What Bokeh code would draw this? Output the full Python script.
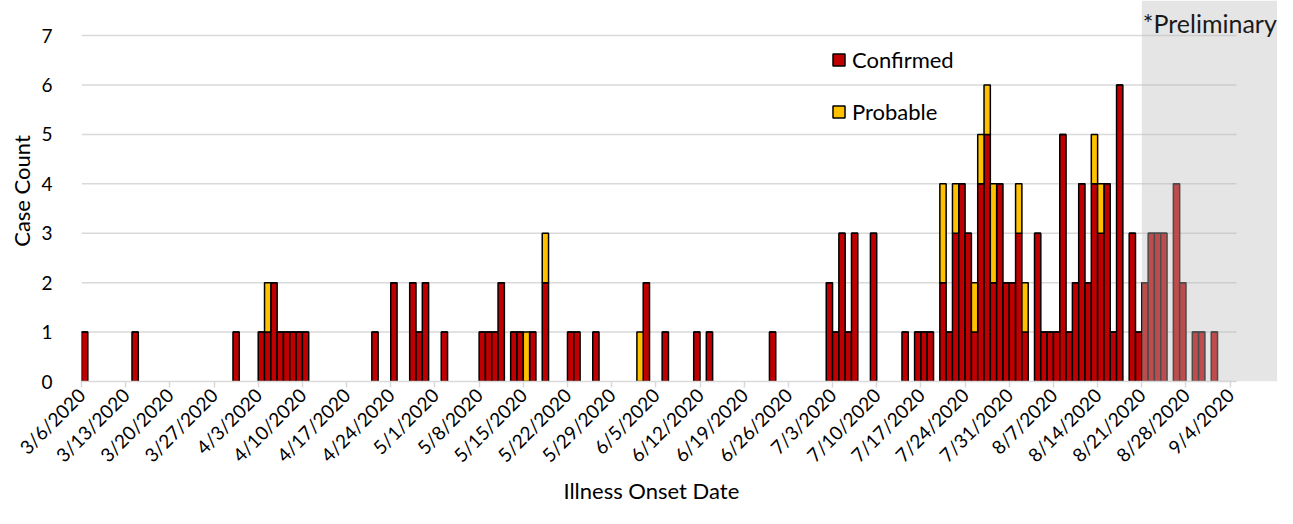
import math
import pandas as pd
from bokeh.plotting import figure
from bokeh.models import ColumnDataSource, Range1d, FixedTicker, BoxAnnotation, Label
from bokeh.embed import file_html
from bokeh.resources import INLINE

# ---------------- data ----------------
onset_dates = [
    "2020-03-06", "2020-03-14", "2020-03-30", "2020-04-03", "2020-04-04", "2020-04-05",
    "2020-04-06", "2020-04-07", "2020-04-08", "2020-04-09", "2020-04-10", "2020-04-21",
    "2020-04-24", "2020-04-27", "2020-04-28", "2020-04-29", "2020-05-02", "2020-05-08",
    "2020-05-09", "2020-05-10", "2020-05-11", "2020-05-13", "2020-05-14", "2020-05-15",
    "2020-05-16", "2020-05-18", "2020-05-22", "2020-05-23", "2020-05-26", "2020-06-02",
    "2020-06-03", "2020-06-06", "2020-06-11", "2020-06-13", "2020-06-23", "2020-07-02",
    "2020-07-03", "2020-07-04", "2020-07-05", "2020-07-06", "2020-07-09", "2020-07-14",
    "2020-07-16", "2020-07-17", "2020-07-18", "2020-07-20", "2020-07-21", "2020-07-22",
    "2020-07-23", "2020-07-24", "2020-07-25", "2020-07-26", "2020-07-27", "2020-07-28",
    "2020-07-29", "2020-07-30", "2020-07-31", "2020-08-01", "2020-08-02", "2020-08-04",
    "2020-08-05", "2020-08-06", "2020-08-07", "2020-08-08", "2020-08-09", "2020-08-10",
    "2020-08-11", "2020-08-12", "2020-08-13", "2020-08-14", "2020-08-15", "2020-08-16",
    "2020-08-17", "2020-08-19", "2020-08-20", "2020-08-21", "2020-08-22", "2020-08-23",
    "2020-08-24", "2020-08-26", "2020-08-27", "2020-08-29", "2020-08-30", "2020-09-01",
]
confirmed = [
    1, 1, 1, 1, 1, 2,
    1, 1, 1, 1, 1, 1,
    2, 2, 1, 2, 1, 1,
    1, 1, 2, 1, 1, 0,
    1, 2, 1, 1, 1, 0,
    2, 1, 1, 1, 1, 2,
    1, 3, 1, 3, 3, 1,
    1, 1, 1, 2, 1, 3,
    4, 3, 1, 4, 5, 2,
    4, 2, 2, 3, 1, 3,
    1, 1, 1, 5, 1, 2,
    4, 2, 4, 3, 4, 1,
    6, 3, 1, 2, 3, 3,
    3, 4, 2, 1, 1, 1,
]
probable = [
    0, 0, 0, 0, 1, 0,
    0, 0, 0, 0, 0, 0,
    0, 0, 0, 0, 0, 0,
    0, 0, 0, 0, 0, 1,
    0, 1, 0, 0, 0, 1,
    0, 0, 0, 0, 0, 0,
    0, 0, 0, 0, 0, 0,
    0, 0, 0, 2, 0, 1,
    0, 0, 1, 1, 1, 2,
    0, 0, 0, 1, 1, 0,
    0, 0, 0, 0, 0, 0,
    0, 0, 1, 1, 0, 0,
    0, 0, 0, 0, 0, 0,
    0, 0, 0, 0, 0, 0,
]
tick_labels = [
    "3/6/2020", "3/13/2020", "3/20/2020", "3/27/2020", "4/3/2020", "4/10/2020",
    "4/17/2020", "4/24/2020", "5/1/2020", "5/8/2020", "5/15/2020", "5/22/2020",
    "5/29/2020", "6/5/2020", "6/12/2020", "6/19/2020", "6/26/2020", "7/3/2020",
    "7/10/2020", "7/17/2020", "7/24/2020", "7/31/2020", "8/7/2020", "8/14/2020",
    "8/21/2020", "8/28/2020", "9/4/2020",
]
y_ticks = [0, 1, 2, 3, 4, 5, 6, 7]
axis_start = "2020-03-06"
axis_end = "2020-09-05"
preliminary_start = "2020-08-21"
series_names = ["Confirmed", "Probable"]
series_colors = ["#C00000", "#FFC000"]

# ---------------- derived ----------------
t0 = pd.Timestamp(axis_start)
day_index = (pd.to_datetime(onset_dates) - t0).days
x_centers = [d + 0.5 for d in day_index]
axis_days = (pd.Timestamp(axis_end) - t0).days
prelim_x = (pd.Timestamp(preliminary_start) - t0).days
tick_positions = [7 * k for k in range(len(tick_labels))]

source = ColumnDataSource(dict(x=x_centers, Confirmed=confirmed, Probable=probable))

FONT = "Lato"
TEXT = "#000000"
GRID = "#D9D9D9"

p = figure(
    width=1277, height=508,
    x_range=Range1d(0, 189.5), y_range=Range1d(0, 7.71),
    output_backend="svg", toolbar_location=None,
    min_border_left=81, min_border_right=0, min_border_top=0, min_border_bottom=127,
)
p.outline_line_color = None
p.xgrid.visible = False
p.ygrid.visible = False
p.background_fill_color = "white"

# horizontal gridlines across the data area only
grid_src = ColumnDataSource(dict(y=y_ticks[1:]))
p.segment(x0=0, x1=axis_days, y0="y", y1="y", source=grid_src,
          line_color=GRID, line_width=1.5, level="underlay")

p.vbar_stack(series_names, x="x", width=1.0, source=source,
             color=series_colors, line_color="black", line_width=1.5,
             legend_label=series_names)

# preliminary shading
p.add_layout(BoxAnnotation(left=prelim_x, fill_color="#BFBFBF", fill_alpha=0.4,
                           line_color=None))
p.add_layout(Label(x=prelim_x, y=7.26, x_offset=1, text="*Preliminary",
                   text_baseline="alphabetic", text_align="left",
                   text_font=FONT, text_font_size="25px", text_color="#1a1a1a"))

# x axis
xa = p.xaxis[0]
xa.bounds = (0, axis_days)
xa.ticker = FixedTicker(ticks=tick_positions)
xa.major_label_overrides = {t: lab for t, lab in zip(tick_positions, tick_labels)}
xa.major_label_orientation = math.pi / 4
xa.major_label_standoff = 4
xa.major_label_text_font = FONT
xa.major_label_text_font_size = "19px"
xa.major_label_text_color = TEXT
xa.axis_line_color = GRID
xa.axis_line_width = 1.5
xa.major_tick_line_color = GRID
xa.major_tick_line_width = 1.5
xa.major_tick_out = 6
xa.major_tick_in = 0
xa.minor_tick_line_color = None
# trailing no-break spaces shift the centred title over the date axis (not the shaded margin)
xa.axis_label = "Illness Onset Date" + "\u00a0" * 10
xa.axis_label_text_font = FONT
xa.axis_label_text_font_size = "22px"
xa.axis_label_text_font_style = "normal"
xa.axis_label_text_color = TEXT
xa.axis_label_standoff = 0

# y axis
ya = p.yaxis[0]
ya.ticker = FixedTicker(ticks=y_ticks)
ya.axis_line_color = None
ya.major_tick_line_color = None
ya.minor_tick_line_color = None
ya.major_label_standoff = 23
ya.major_label_text_font = FONT
ya.major_label_text_font_size = "19px"
ya.major_label_text_color = TEXT
ya.axis_label = "Case Count"
ya.axis_label_text_font = FONT
ya.axis_label_text_font_size = "22px"
ya.axis_label_text_font_style = "normal"
ya.axis_label_text_color = TEXT
ya.axis_label_standoff = 3

# legend
lg = p.legend[0]
lg.location = (750, 256)
lg.orientation = "vertical"
lg.border_line_color = None
lg.background_fill_alpha = 0
lg.padding = 0
lg.margin = 0
lg.spacing = 25
lg.glyph_width = 15
lg.glyph_height = 15
lg.label_height = 26
lg.label_standoff = 6
lg.label_text_font = FONT
lg.label_text_font_size = "22px"
lg.label_text_color = TEXT

open("out.html", "w").write(file_html(p, INLINE))
